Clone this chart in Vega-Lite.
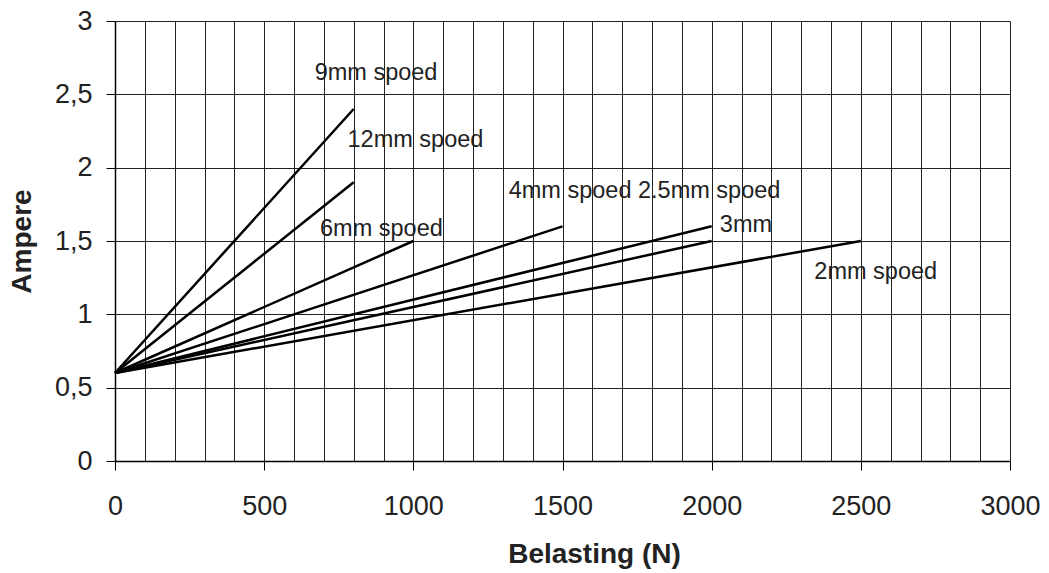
{
  "$schema": "https://vega.github.io/schema/vega-lite/v6.json",
  "width": 895,
  "height": 440,
  "autosize": {"type": "none"},
  "padding": {"left": 115, "top": 21, "right": 39, "bottom": 112},
  "background": "white",
  "config": {"view": {"stroke": null}, "font": "Liberation Sans"},
  "datasets": {
    "lines": [
      {"serie": "9mm", "belasting": 0, "ampere": 0.6},
      {"serie": "9mm", "belasting": 800, "ampere": 2.4},
      {"serie": "12mm", "belasting": 0, "ampere": 0.6},
      {"serie": "12mm", "belasting": 800, "ampere": 1.9},
      {"serie": "6mm", "belasting": 0, "ampere": 0.6},
      {"serie": "6mm", "belasting": 1000, "ampere": 1.5},
      {"serie": "4mm", "belasting": 0, "ampere": 0.6},
      {"serie": "4mm", "belasting": 1500, "ampere": 1.6},
      {"serie": "2.5mm", "belasting": 0, "ampere": 0.6},
      {"serie": "2.5mm", "belasting": 2000, "ampere": 1.6},
      {"serie": "3mm", "belasting": 0, "ampere": 0.6},
      {"serie": "3mm", "belasting": 2000, "ampere": 1.5},
      {"serie": "2mm", "belasting": 0, "ampere": 0.6},
      {"serie": "2mm", "belasting": 2500, "ampere": 1.5}
    ],
    "labels": [
      {"label": "9mm spoed", "belasting": 875, "ampere": 2.643},
      {"label": "12mm spoed", "belasting": 1007, "ampere": 2.189},
      {"label": "6mm spoed", "belasting": 893, "ampere": 1.582},
      {"label": "4mm spoed 2.5mm spoed", "belasting": 1775, "ampere": 1.839},
      {"label": "3mm", "belasting": 2115, "ampere": 1.611},
      {"label": "2mm spoed", "belasting": 2550, "ampere": 1.291}
    ]
  },
  "encoding": {
    "x": {
      "field": "belasting",
      "type": "quantitative",
      "scale": {"domain": [0, 3000], "nice": false, "zero": true},
      "axis": {
        "values": [0,100,200,300,400,500,600,700,800,900,1000,1100,1200,1300,1400,1500,1600,1700,1800,1900,2000,2100,2200,2300,2400,2500,2600,2700,2800,2900,3000],
        "grid": true,
        "gridColor": "#222",
        "gridWidth": 1,
        "gridOpacity": 1,
        "domainColor": "black",
        "domainWidth": 1.5,
        "tickColor": "black",
        "tickWidth": 1,
        "tickSize": 9,
        "tickOpacity": {"condition": {"test": "datum.value % 500 === 0", "value": 1}, "value": 0},
        "labelExpr": "datum.value % 500 === 0 ? format(datum.value, 'd') : ''",
        "labelFontSize": 27,
        "labelColor": "#222",
        "labelBaseline": "alphabetic",
        "labelPadding": 44,
        "labelFlush": false,
        "labelOverlap": false,
        "title": "Belasting (N)",
        "titleFontSize": 28,
        "titleFontWeight": "bold",
        "titleColor": "#222",
        "titleX": 479,
        "titleY": 101.5,
        "titleAlign": "center",
        "titleBaseline": "alphabetic"
      }
    },
    "y": {
      "field": "ampere",
      "type": "quantitative",
      "scale": {"domain": [0, 3], "nice": false},
      "axis": {
        "values": [0, 0.5, 1, 1.5, 2, 2.5, 3],
        "grid": true,
        "gridColor": "#222",
        "gridWidth": 1,
        "gridOpacity": 1,
        "domainColor": "black",
        "domainWidth": 1.5,
        "tickColor": "black",
        "tickSize": 9,
        "labelExpr": "replace(format(datum.value, '~g'), '.', ',')",
        "labelFontSize": 27,
        "labelColor": "#222",
        "labelPadding": 14,
        "labelOverlap": false,
        "labelFlush": false,
        "title": "Ampere",
        "titleFontSize": 28,
        "titleFontWeight": "bold",
        "titleColor": "#222",
        "titleX": -93,
        "titleY": 220,
        "titleAngle": -90,
        "titleAlign": "center",
        "titleBaseline": "middle"
      }
    }
  },
  "layer": [
    {
      "data": {"name": "lines"},
      "mark": {"type": "line", "color": "black", "strokeWidth": 2.5},
      "encoding": {
        "detail": {"field": "serie", "type": "nominal"}
      }
    },
    {
      "data": {"name": "labels"},
      "mark": {"type": "text", "fontSize": 23.5, "color": "#222", "align": "center", "baseline": "middle"},
      "encoding": {
        "text": {"field": "label"}
      }
    }
  ]
}
